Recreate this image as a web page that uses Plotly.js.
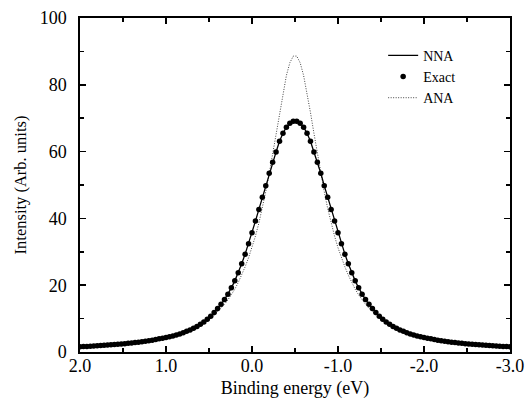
<!DOCTYPE html>
<html>
<head>
<meta charset="utf-8">
<script src="https://cdn.plot.ly/plotly-3.0.1.min.js"></script>
<style>html,body{margin:0;padding:0;background:#fff;}#chart{width:526px;height:404px;}</style>
</head>
<body>
<div id="chart"></div>
<script>
// Binding energy grid (eV)
const energy = [
  2.00,1.96,1.92,1.88,1.84,1.80,1.76,1.72,1.68,1.64,
  1.60,1.56,1.52,1.48,1.44,1.40,1.36,1.32,1.28,1.24,
  1.20,1.16,1.12,1.08,1.04,1.00,0.96,0.92,0.88,0.84,
  0.80,0.76,0.72,0.68,0.64,0.60,0.56,0.52,0.48,0.44,
  0.40,0.36,0.32,0.28,0.24,0.20,0.16,0.12,0.08,0.04,
  0.00,-0.04,-0.08,-0.12,-0.16,-0.20,-0.24,-0.28,-0.32,-0.36,
  -0.40,-0.44,-0.48,-0.52,-0.56,-0.60,-0.64,-0.68,-0.72,-0.76,
  -0.80,-0.84,-0.88,-0.92,-0.96,-1.00,-1.04,-1.08,-1.12,-1.16,
  -1.20,-1.24,-1.28,-1.32,-1.36,-1.40,-1.44,-1.48,-1.52,-1.56,
  -1.60,-1.64,-1.68,-1.72,-1.76,-1.80,-1.84,-1.88,-1.92,-1.96,
  -2.00,-2.04,-2.08,-2.12,-2.16,-2.20,-2.24,-2.28,-2.32,-2.36,
  -2.40,-2.44,-2.48,-2.52,-2.56,-2.60,-2.64,-2.68,-2.72,-2.76,
  -2.80,-2.84,-2.88,-2.92,-2.96,-3.00
];

// Exact intensities (dots); NNA line coincides with them
const exactIntensity = [
  1.57,1.62,1.67,1.73,1.79,1.85,1.92,1.99,2.06,2.14,
  2.22,2.3,2.4,2.5,2.6,2.72,2.85,2.95,3.1,3.25,
  3.4,3.55,3.75,3.95,4.15,4.35,4.6,4.8,5.1,5.4,
  5.8,6.2,6.6,7.1,7.6,8.3,9.0,9.8,10.7,11.8,
  13.0,14.3,15.7,17.3,19.2,21.3,23.7,26.4,29.3,32.4,
  35.7,39.2,42.7,46.3,49.8,53.5,56.8,59.9,63.1,65.5,
  67.3,68.5,69.1,
  69.1,68.5,67.3,65.5,63.1,59.9,56.8,53.5,49.8,46.3,
  42.7,39.2,35.7,32.4,29.3,26.4,23.7,21.3,19.2,17.3,
  15.7,14.3,13.0,11.8,10.7,9.8,9.0,8.3,7.6,7.1,
  6.6,6.2,5.8,5.4,5.1,4.8,4.6,4.35,4.15,3.95,
  3.75,3.55,3.4,3.25,3.1,2.95,2.85,2.72,2.6,2.5,
  2.4,2.3,2.22,2.14,2.06,1.99,1.92,1.85,1.79,1.73,
  1.67,1.62,1.57
];
const nnaIntensity = exactIntensity.slice();

// ANA intensities (dotted line)
const anaIntensity = [
  1.48,1.53,1.58,1.63,1.69,1.75,1.81,1.87,1.94,2.01,
  2.09,2.17,2.26,2.35,2.45,2.56,2.67,2.78,2.9,3.05,
  3.2,3.35,3.5,3.7,3.9,4.1,4.3,4.55,4.85,5.15,
  5.5,5.9,6.3,6.8,7.3,7.9,8.6,9.3,10.1,11.0,
  12.0,13.1,14.3,15.6,17.1,18.8,20.8,23.0,25.5,28.2,
  31.2,34.7,38.6,43.0,48.0,53.4,59.3,65.5,71.7,77.7,
  82.8,86.6,88.6,
  88.6,86.6,82.8,77.7,71.7,65.5,59.3,53.4,48.0,43.0,
  38.6,34.7,31.2,28.2,25.5,23.0,20.8,18.8,17.1,15.6,
  14.3,13.1,12.0,11.0,10.1,9.3,8.6,7.9,7.3,6.8,
  6.3,5.9,5.5,5.15,4.85,4.55,4.3,4.1,3.9,3.7,
  3.5,3.35,3.2,3.05,2.9,2.78,2.67,2.56,2.45,2.35,
  2.26,2.17,2.09,2.01,1.94,1.87,1.81,1.75,1.69,1.63,
  1.58,1.53,1.48
];

const xTickVals = [2, 1, 0, -1, -2, -3];
const xTickText = ['2.0', '1.0', '0.0', '-1.0', '-2.0', '-3.0'];
const yTickVals = [0, 20, 40, 60, 80, 100];
const yTickText = ['0', '20', '40', '60', '80', '100'];

const serif = '"Liberation Serif", "Times New Roman", Times, serif';

const traces = [
  {x: energy, y: anaIntensity, name: 'ANA', type: 'scatter', mode: 'lines',
   line: {color: '#444', width: 1, dash: '1px,1.5px'}, legendrank: 3},
  {x: energy, y: nnaIntensity, name: 'NNA', type: 'scatter', mode: 'lines',
   line: {color: '#000', width: 1.3}, legendrank: 1},
  {x: energy, y: exactIntensity, name: 'Exact', type: 'scatter', mode: 'markers',
   marker: {color: '#000', size: 5.5}, legendrank: 2}
];

const axisCommon = {
  showline: true, linewidth: 1.6, linecolor: '#000', mirror: 'allticks',
  ticks: 'inside', ticklen: 6, tickwidth: 1.5, tickcolor: '#000',
  showgrid: false, zeroline: false, tickmode: 'array',
  tickfont: {family: serif, size: 18, color: '#000'}
};

const layout = {
  width: 526, height: 404,
  margin: {l: 80, r: 16, t: 18, b: 52},
  paper_bgcolor: '#fff', plot_bgcolor: '#fff',
  font: {family: serif, size: 18, color: '#000'},
  showlegend: true,
  legend: {x: 0.705, y: 0.935, xanchor: 'left', yanchor: 'top',
           bgcolor: 'rgba(0,0,0,0)', font: {family: serif, size: 14, color: '#000'},
           tracegroupgap: 0},
  xaxis: Object.assign({}, axisCommon, {
    range: [2, -3], tickvals: xTickVals, ticktext: xTickText,
    ticklabelstandoff: -3,
    minor: {dtick: 0.5, tick0: 0, ticks: 'inside', ticklen: 4, tickwidth: 1.5, tickcolor: '#000', showgrid: false},
    title: {text: 'Binding energy (eV)', font: {family: serif, size: 18, color: '#000'}, standoff: 6}
  }),
  yaxis: Object.assign({}, axisCommon, {
    range: [0, 100], tickvals: yTickVals, ticktext: yTickText,
    ticklabelstandoff: 8,
    minor: {dtick: 10, tick0: 0, ticks: 'inside', ticklen: 4, tickwidth: 1.5, tickcolor: '#000', showgrid: false},
    title: {text: 'Intensity (Arb. units)', font: {family: serif, size: 16.5, color: '#000'}, standoff: 9}
  })
};

Plotly.newPlot('chart', traces, layout, {displayModeBar: false, staticPlot: true});
</script>
</body>
</html>
